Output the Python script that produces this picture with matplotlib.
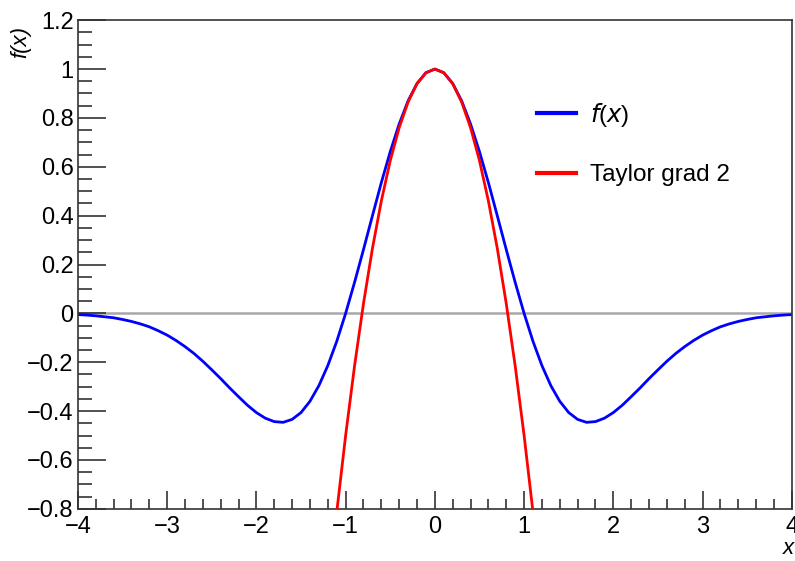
import matplotlib.pyplot as plt
from matplotlib.ticker import MultipleLocator, FuncFormatter

plt.rcParams['font.family'] = ['Liberation Sans', 'DejaVu Sans']

# f(x) sampled every 0.1 on [-4, 4]
x_f = [round(-4 + 0.1 * i, 1) for i in range(81)]
f_right = [1.000, 0.985, 0.941, 0.870, 0.775, 0.662, 0.535, 0.399, 0.261, 0.127,
           0.000, -0.115, -0.214, -0.296, -0.360, -0.406, -0.434, -0.446, -0.443, -0.429,
           -0.406, -0.376, -0.341, -0.305, -0.267, -0.231, -0.196, -0.164, -0.136, -0.111,
           -0.089, -0.071, -0.055, -0.043, -0.033, -0.025, -0.018, -0.014, -0.010, -0.007,
           -0.005]
f_left = [-0.005, -0.007, -0.010, -0.014, -0.018, -0.025, -0.033, -0.043, -0.055, -0.071,
          -0.089, -0.111, -0.136, -0.164, -0.196, -0.231, -0.267, -0.305, -0.341, -0.376,
          -0.406, -0.429, -0.443, -0.446, -0.434, -0.406, -0.360, -0.296, -0.214, -0.115,
          0.000, 0.127, 0.261, 0.399, 0.535, 0.662, 0.775, 0.870, 0.941, 0.985]
f_vals = f_left + f_right

# Taylor approximation (grade 2)
x_t = [-1.2, -1.1, -1.0, -0.9, -0.8, -0.7, -0.6, -0.5, -0.4, -0.3, -0.2, -0.1, 0.0,
       0.1, 0.2, 0.3, 0.4, 0.5, 0.6, 0.7, 0.8, 0.9, 1.0, 1.1, 1.2]
t_vals = [-1.160, -0.815, -0.500, -0.215, 0.040, 0.265, 0.460, 0.625, 0.760, 0.865, 0.940, 0.985, 1.000,
          0.985, 0.940, 0.865, 0.760, 0.625, 0.460, 0.265, 0.040, -0.215, -0.500, -0.815, -1.160]

fig = plt.figure(figsize=(7.95, 5.61), dpi=100)
ax = fig.add_axes([0.098, 0.093, 0.898, 0.871])

ax.axhline(0, color='#a8a8a8', lw=1.8, zorder=1)
ax.plot(x_f, f_vals, color='blue', lw=2, label='$\\mathit{f}$($\\mathit{x}$)', zorder=2)
ax.plot(x_t, t_vals, color='red', lw=2, label='Taylor grad 2', zorder=3)

ax.set_xlim(-4, 4)
ax.set_ylim(-0.8, 1.2)

fmt = FuncFormatter(lambda v, p: ('%g' % round(v, 6)).replace('-', '\u2212'))
ax.xaxis.set_major_locator(MultipleLocator(1))
ax.xaxis.set_minor_locator(MultipleLocator(0.2))
ax.yaxis.set_major_locator(MultipleLocator(0.2))
ax.yaxis.set_minor_locator(MultipleLocator(0.05))
ax.yaxis.set_major_formatter(fmt)
ax.xaxis.set_major_formatter(fmt)

ax.tick_params(axis='both', which='both', direction='in', top=False, right=False,
               labelsize=17, width=1.2, color='#333333')
ax.tick_params(axis='y', which='major', length=20, pad=3)
ax.tick_params(axis='y', which='minor', length=10)
ax.tick_params(axis='x', which='major', length=13, pad=5)
ax.tick_params(axis='x', which='minor', length=7)
for s in ax.spines.values():
    s.set_color('#333333')
    s.set_linewidth(1.2)

fig.text(0.026, 0.925, 'f(x)', rotation=90, fontsize=16, style='italic', ha='center', va='center')
fig.text(0.999, 0.012, 'x', fontsize=16, style='italic', ha='right', va='baseline')

leg = ax.legend(loc='upper left', bbox_to_anchor=(0.675, 0.82), bbox_transform=fig.transFigure,
                frameon=False, fontsize=17.5, handlelength=1.6, handletextpad=0.6,
                labelspacing=1.45, borderpad=0, borderaxespad=0)
for line in leg.get_lines():
    line.set_linewidth(3)

fig.savefig('out.png', dpi=100)
